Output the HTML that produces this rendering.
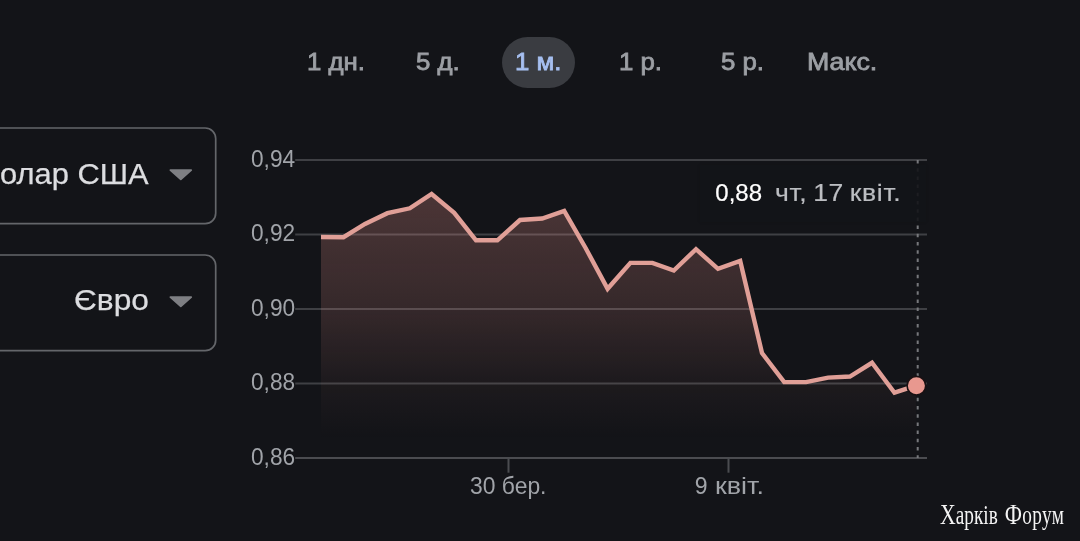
<!DOCTYPE html>
<html lang="uk">
<head>
<meta charset="utf-8">
<title>Chart</title>
<style>
html,body{margin:0;padding:0;background:#131418;}
body{width:1080px;height:541px;position:relative;overflow:hidden;font-family:"Liberation Sans",sans-serif;}
.abs{position:absolute;white-space:nowrap;}
.tab{position:absolute;top:46.9px;height:30px;line-height:30px;font-size:24px;color:#9c9fa4;-webkit-text-stroke:0.8px #9c9fa4;white-space:nowrap;transform-origin:0 50%;transform:scaleX(1.075);}
.pill{position:absolute;left:502px;top:37px;width:73px;height:51px;border-radius:26px;background:#3a3c41;}
.boxtxt{position:absolute;font-size:29px;color:#dcdde0;-webkit-text-stroke:0.25px #dcdde0;white-space:nowrap;line-height:34px;height:34px;transform-origin:100% 50%;transform:scaleX(1.064);}
.yl{position:absolute;left:250.5px;font-size:23px;line-height:26px;height:26px;color:#a1a4a9;white-space:nowrap;transform-origin:0 50%;transform:scaleX(0.985);margin-top:-1.5px;}
.xl{position:absolute;font-size:23px;line-height:26px;height:26px;color:#a1a4a9;white-space:nowrap;transform-origin:0 50%;}
svg{position:absolute;left:0;top:0;}
#root{position:absolute;left:0;top:0;width:1080px;height:541px;will-change:transform;transform:translateZ(0);}
</style>
</head>
<body>
<div id="root">
<div class="pill"></div>
<div class="tab" style="left:307px">1 дн.</div>
<div class="tab" style="left:416px">5 д.</div>
<div class="tab" style="left:515.3px;color:#a6bff0;-webkit-text-stroke-color:#a6bff0">1 м.</div>
<div class="tab" style="left:619px">1 р.</div>
<div class="tab" style="left:721px">5 р.</div>
<div class="tab" style="left:807.4px;transform:scaleX(1.115)">Макс.</div>

<div class="boxtxt" style="right:931px;top:157px">Долар США</div>
<div class="boxtxt" style="right:931.6px;top:283.1px;font-size:30px;transform:scaleX(1.055)">Євро</div>

<svg width="1080" height="541" viewBox="0 0 1080 541">
<defs>
<linearGradient id="g" x1="0" y1="194" x2="0" y2="458" gradientUnits="userSpaceOnUse">
<stop offset="0" stop-color="#e28f88" stop-opacity="0.275"/>
<stop offset="0.435" stop-color="#e28f88" stop-opacity="0.168"/>
<stop offset="0.716" stop-color="#e28f88" stop-opacity="0.05"/>
<stop offset="0.93" stop-color="#e28f88" stop-opacity="0"/>
</linearGradient>
<filter id="bl" x="-20%" y="-20%" width="140%" height="140%"><feGaussianBlur stdDeviation="0.7"/></filter>
</defs>
<!-- dropdown boxes -->
<rect x="-40" y="128" width="255.7" height="95.7" rx="10.5" ry="10.5" fill="none" stroke="#64666a" stroke-width="1.7"/>
<rect x="-40" y="255" width="255.7" height="95.7" rx="10.5" ry="10.5" fill="none" stroke="#64666a" stroke-width="1.7"/>
<!-- dropdown arrows -->
<path d="M170.4 170.2 L191.2 170.2 L180.8 179.4 Z" fill="#7e7f83" stroke="#7e7f83" stroke-width="1.8" stroke-linejoin="round" filter="url(#bl)"/>
<path d="M170.4 297.2 L191.2 297.2 L180.8 306.4 Z" fill="#7e7f83" stroke="#7e7f83" stroke-width="1.8" stroke-linejoin="round" filter="url(#bl)"/>
<!-- grid -->
<g stroke="#3f4044" stroke-width="2">
<line x1="295.2" y1="160" x2="927" y2="160"/>
<line x1="295.2" y1="234.5" x2="927" y2="234.5"/>
<line x1="295.2" y1="309" x2="927" y2="309"/>
<line x1="295.2" y1="383.5" x2="927" y2="383.5"/>
</g>
<line x1="295.2" y1="458" x2="927" y2="458" stroke="#4b4c50" stroke-width="2"/>
<line x1="508.5" y1="458" x2="508.5" y2="472.7" stroke="#4b4c50" stroke-width="2"/>
<line x1="728.5" y1="458" x2="728.5" y2="472.7" stroke="#4b4c50" stroke-width="2"/>
<!-- area -->
<path id="area" fill="url(#g)" d="M321 237 L343.5 237.2 L365 224 L387.4 213.2 L409.8 208.3 L431.6 194 L454.2 212.8 L476 240.3 L497.4 240.3 L520 220 L542.2 218.5 L564.2 211 L585.6 248 L607.6 288.8 L630.4 262.9 L652.4 262.9 L673.8 270.5 L696 249.2 L718 268.8 L740.2 260.9 L762 353 L784.2 382.1 L806 382.1 L828.1 377.6 L849.9 376.5 L872 362.8 L894.5 392.7 L916 385.7 L916 458 L321 458 Z"/>
<!-- dotted line -->
<line x1="917.7" y1="160" x2="917.7" y2="458" stroke="#77787c" stroke-width="2" stroke-dasharray="3.5 4.7"/>
<!-- line -->
<path fill="none" stroke="#e09f97" stroke-width="4.4" stroke-linejoin="miter" stroke-linecap="butt" d="M321 237 L343.5 237.2 L365 224 L387.4 213.2 L409.8 208.3 L431.6 194 L454.2 212.8 L476 240.3 L497.4 240.3 L520 220 L542.2 218.5 L564.2 211 L585.6 248 L607.6 288.8 L630.4 262.9 L652.4 262.9 L673.8 270.5 L696 249.2 L718 268.8 L740.2 260.9 L762 353 L784.2 382.1 L806 382.1 L828.1 377.6 L849.9 376.5 L872 362.8 L894.5 392.7 L916 385.7"/>
<circle cx="916.4" cy="385.7" r="9.3" fill="#e8988f" stroke="#1a1113" stroke-width="1.6"/>
</svg>

<!-- tooltip -->
<div class="abs" style="left:700px;top:165px;width:226px;height:57px;background:rgba(19,20,24,0.9);box-shadow:0 0 3px rgba(0,0,0,0.12);"></div>
<div class="abs" style="left:715.3px;top:178.6px;font-size:24px;line-height:28px;color:#ffffff;-webkit-text-stroke:0.2px #fff;transform-origin:0 50%;transform:scaleX(1.0)">0,88</div>
<div class="abs" style="left:775px;top:178.6px;font-size:24px;line-height:28px;color:#bcbec2;-webkit-text-stroke:0.2px #bcbec2;letter-spacing:0.6px;word-spacing:-2px;transform-origin:0 50%;transform:scaleX(1.105);">чт, 17 квіт.</div>

<div class="yl" style="top:147px">0,94</div>
<div class="yl" style="top:221.5px">0,92</div>
<div class="yl" style="top:296px">0,90</div>
<div class="yl" style="top:370.5px">0,88</div>
<div class="yl" style="top:445px">0,86</div>

<div class="xl" style="left:470px;top:472.8px;transform:scaleX(0.995)">30 бер.</div>
<div class="xl" style="left:694.8px;top:472.8px;">9</div>
<div class="xl" id="kv" style="left:714.5px;top:472.8px;transform:scaleX(1.17)">квіт.</div>

<div class="abs" id="wm" style="left:940px;top:496.2px;font-family:'Liberation Serif',serif;font-size:26.5px;line-height:36px;color:#f4f4f4;transform-origin:0 0;transform:scaleX(0.727);word-spacing:3px;"><span style="font-size:30px">Х</span>арків <span style="font-size:30px;letter-spacing:0.5px">Ф</span><span style="letter-spacing:0.5px">орум</span></div>
</div>
</body>
</html>
